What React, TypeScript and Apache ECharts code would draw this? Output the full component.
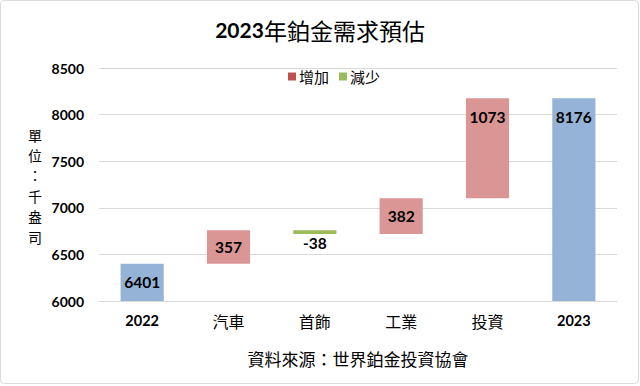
import React, { useEffect, useRef } from "react";
import * as echarts from "echarts";

const categories = ["2022", "汽車", "首飾", "工業", "投資", "2023"];
const startTotal = 6401;
const endTotal = 8176;
const changes: (number | null)[] = [null, 357, -38, 382, 1073, null];
const yTicks = { min: 6000, max: 8500, interval: 500 };
const yName = "單位：千盎司";

const LATIN = "Lato, 'Noto Sans CJK TC', sans-serif";
const CJK = "'Noto Sans CJK TC', sans-serif";

export default function App() {
  const ref = useRef<HTMLDivElement>(null);
  useEffect(() => {
    if (!ref.current) return;
    const chart = echarts.init(ref.current, undefined, { renderer: "svg" });

    const base: any[] = [];
    const inc: any[] = [];
    const dec: any[] = [];
    const tot: any[] = [];
    let running = startTotal;
    categories.forEach((c, i) => {
      const ch = changes[i];
      if (i === 0) {
        base.push("-"); inc.push("-"); dec.push("-");
        tot.push({ value: startTotal, label: { position: "inside" } });
      } else if (i === categories.length - 1) {
        base.push("-"); inc.push("-"); dec.push("-");
        tot.push({ value: endTotal, label: { position: "insideTop", distance: 11 } });
      } else if (ch !== null && ch >= 0) {
        base.push(running);
        inc.push({
          value: ch,
          itemStyle: { color: "#DA9694" },
          label: ch > 600 ? { position: "insideTop", distance: 11 } : { position: "inside" },
        });
        dec.push("-");
        tot.push("-");
        running += ch;
      } else if (ch !== null) {
        running += ch;
        base.push(running);
        inc.push("-");
        dec.push({ value: -ch, itemStyle: { color: "#9BBB59" } });
        tot.push("-");
      }
    });

    const labelStyle = {
      show: true,
      fontFamily: LATIN,
      fontWeight: "bold" as const,
      fontSize: 15.5,
      color: "#000",
    };

    const nameChars = Array.from(yName);
    const nameGraphics = nameChars.map((ch, i) => ({
      type: "text",
      x: 35,
      y: 185.5 + (i - (nameChars.length - 1) / 2) * 20.4,
      style: {
        text: ch,
        fontFamily: CJK,
        fontSize: 14,
        fill: "#000",
        align: "center",
        verticalAlign: "middle",
      },
    }));

    chart.setOption({
      animation: false,
      backgroundColor: "#fff",
      title: {
        text: "{b|2023}{n|年鉑金需求預估}",
        left: "center",
        top: 13,
        textStyle: {
          rich: {
            b: { fontFamily: LATIN, fontWeight: "bold", fontSize: 21, color: "#000" },
            n: { fontFamily: CJK, fontWeight: "normal", fontSize: 23, color: "#000" },
          },
        },
      },
      legend: {
        data: ["增加", "減少"],
        left: 283,
        top: 64,
        icon: "rect",
        itemWidth: 8,
        itemHeight: 8,
        itemGap: 10,
        textStyle: { fontFamily: CJK, fontSize: 15, color: "#000", padding: [0, 0, 0, -2] },
      },
      grid: { left: 99, right: 23, top: 68, bottom: 85 },
      xAxis: {
        type: "category",
        data: categories,
        axisTick: { show: false },
        axisLine: { lineStyle: { color: "#d9d9d9" } },
        axisLabel: {
          margin: 12,
          formatter: (v: string) => (/^\d+$/.test(v) ? `{b|${v}}` : `{n|${v}}`),
          rich: {
            b: { fontFamily: LATIN, fontWeight: "bold", fontSize: 14.5, color: "#000" },
            n: { fontFamily: CJK, fontSize: 16, color: "#000" },
          },
        },
        name: "資料來源：世界鉑金投資協會",
        nameLocation: "middle",
        nameGap: 49,
        nameTextStyle: { fontFamily: CJK, fontSize: 17, color: "#000" },
      },
      yAxis: {
        type: "value",
        min: yTicks.min,
        max: yTicks.max,
        interval: yTicks.interval,
        axisLine: { show: false },
        axisTick: { show: false },
        splitLine: { lineStyle: { color: "#d9d9d9" } },
        axisLabel: {
          margin: 15,
          formatter: (v: number) => String(v),
          fontFamily: LATIN,
          fontWeight: "bold",
          fontSize: 14,
          color: "#000",
        },
      },
      graphic: [
        {
          type: "rect",
          shape: { x: 0.5, y: 0.5, width: 638, height: 383, r: 4 },
          style: { fill: "none", stroke: "#d9d9d9", lineWidth: 1 },
          silent: true,
        },
        ...nameGraphics,
      ],
      series: [
        {
          name: "base",
          type: "bar",
          stack: "w",
          barWidth: "50%",
          itemStyle: { color: "transparent" },
          data: base,
          silent: true,
        },
        {
          name: "增加",
          type: "bar",
          stack: "w",
          itemStyle: { color: "#C0504D" },
          label: { ...labelStyle, position: "inside" },
          data: inc,
        },
        {
          name: "減少",
          type: "bar",
          stack: "w",
          itemStyle: { color: "#9BBB59" },
          label: {
            ...labelStyle,
            position: "bottom",
            distance: 1,
            formatter: (p: any) => `-${p.value}`,
          },
          data: dec,
        },
        {
          name: "total",
          type: "bar",
          stack: "w",
          itemStyle: { color: "#95B3D7" },
          label: { ...labelStyle, position: "inside" },
          data: tot,
        },
      ],
    });
    return () => chart.dispose();
  }, []);
  return (
    <div
      ref={ref}
      style={{ position: "fixed", left: 0, top: 0, width: 640, height: 386 }}
    />
  );
}
